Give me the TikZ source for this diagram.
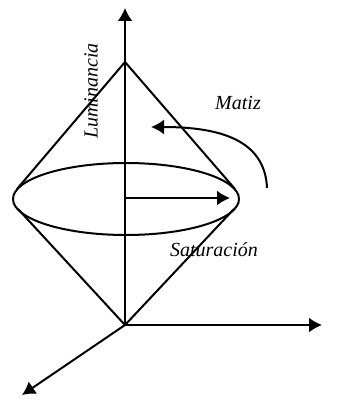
\documentclass[tikz,border=0pt]{standalone}
\usepackage{fontspec}
\setmainfont{Liberation Serif}
\usetikzlibrary{arrows.meta, positioning}

\begin{document}
\begin{tikzpicture}[
      x=0.5pt, y=-0.5pt,
      line width=1pt,
      axis/.style={-{Latex[length=6.5pt, width=7.5pt]}},
      cone/.style={line width=1pt},
      label/.style={font=\itshape, inner sep=0pt}
    ]

      \useasboundingbox (0,0) rectangle (338,401);

      % puntos del cono
      \coordinate (origen) at (125,325);
      \coordinate (apice) at (125,62);
      \coordinate (centro) at (126,199);
      \coordinate (izqA) at (17,189);
      \coordinate (derA) at (235,189);
      \coordinate (izqB) at (18,209);
      \coordinate (derB) at (234,209);

      % ejes
      \draw[axis] (origen) -- (125,8) coordinate (arriba);
      \draw[axis] (origen) -- (322,325) coordinate (derecha);
      \draw[axis] (origen) -- (22,395) coordinate (abajo);

      % cono doble
      \draw[cone] (centro) ellipse [x radius=56.5pt, y radius=18pt];
      \draw[cone] (izqA) -- (apice) -- (derA);
      \draw[cone] (izqB) -- (origen) -- (derB);

      % saturacion y matiz
      \draw[axis] (125,198) -- (230,198) coordinate (borde);
      \draw[axis] (267,188) coordinate (giro) .. controls (265,140) and (220,127) .. (151,127);

      \node[label, rotate=90] (lum) at (91,91) {Luminancia};
      \node[label] (matiz) at (238,103) {Matiz};
      \node[label] (sat) at (214,250) {Saturación};

    \end{tikzpicture}
\end{document}
